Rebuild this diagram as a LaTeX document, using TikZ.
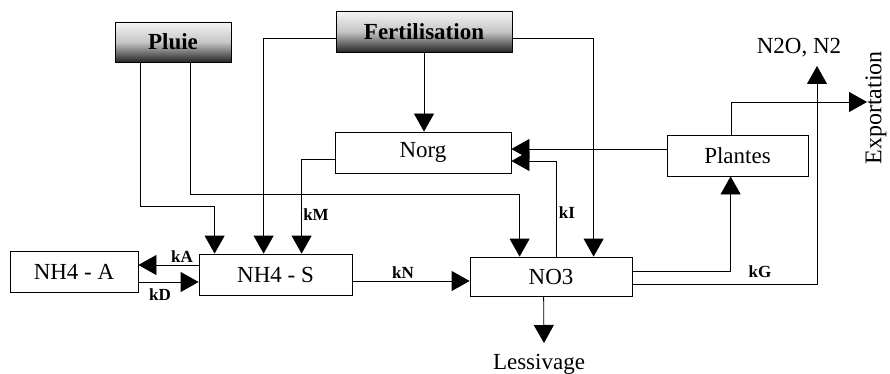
\documentclass[tikz,border=0pt]{standalone}
\usepackage{fontspec}
\setmainfont{Liberation Serif}
\usetikzlibrary{arrows.meta}
\begin{document}
\begin{tikzpicture}[x=1pt,y=-1pt,
  box/.style={draw,line width=0.8pt,rectangle,inner sep=0pt,font=\fontsize{23}{23}\selectfont},
  srcbox/.style={box,font=\fontsize{23}{23}\selectfont\bfseries,top color=gray!8,bottom color=black!85,middle color=gray!45},
  flow/.style={line width=0.8pt,-{Triangle[width=20pt,length=18pt]}},
  klab/.style={font=\fontsize{17}{17}\selectfont\bfseries,inner sep=0pt},
  txt/.style={font=\fontsize{23}{23}\selectfont,inner sep=0pt}]
\useasboundingbox (0,0) rectangle (890,374);
\node[srcbox,minimum width=116pt,minimum height=40pt] (pluie) at (173,42) {Pluie};
\node[srcbox,minimum width=176pt,minimum height=41pt] (fert) at (424,31.5) {Fertilisation};
\node[box,minimum width=176pt,minimum height=41pt] (norg) at (423,152.5) {Norg};
\node[box,minimum width=141pt,minimum height=41pt] (plantes) at (737.5,155.5) {Plantes};
\node[box,minimum width=128pt,minimum height=41pt] (nha) at (74,271.5) {NH4 - A};
\node[box,minimum width=153pt,minimum height=41pt] (nhs) at (275.5,274.5) {NH4 - S};
\node[box,minimum width=162pt,minimum height=39pt] (no3) at (551,276.5) {NO3};
\node[txt] (n2o) at (799,48) {N2O, N2};
\node[txt,rotate=90,font=\fontsize{24}{24}\selectfont] (export) at (876,108) {Exportation};
\node[txt] (less) at (539,364) {Lessivage};
\coordinate (n2otip) at (817,66);
\coordinate (exptip) at (867,102);
\coordinate (lesstip) at (544,343);
% Pluie
\draw[flow] ([xshift=26pt]pluie.south west) -- ++(0,144) -| ([xshift=16pt]nhs.north west);
\draw[flow] ([xshift=76pt]pluie.south west) -- ++(0,132) -| ([xshift=50pt]no3.north west);
% Fertilisation
\draw[flow] ([yshift=-6.5pt]fert.west) -| ([xshift=65pt]nhs.north west);
\draw[flow] (fert.south) -- (fert.south |- norg.north);
\draw[flow] ([yshift=-7pt]fert.east) -| ([xshift=124pt]no3.north west);
% Norg -> NH4-S
\draw[flow] ([yshift=-6.5pt]norg.west) -| ([xshift=103pt]nhs.north west);
\node[klab] (km) at (316,215) {kM};
% Plantes -> Norg
\draw[flow] ([yshift=6.5pt]plantes.west) -- ([yshift=6.5pt]plantes.west -| norg.east);
% NO3 -> Norg
\draw[flow] ([xshift=87pt]no3.north west) |- ([yshift=-8.5pt]norg.east);
\node[klab] (ki) at (567,213) {kI};
% NO3 -> Plantes
\draw[flow] ([yshift=5.5pt]no3.east) -| ([xshift=64pt]plantes.south west);
% NO3 -> N2O
\draw[flow] ([yshift=-7.5pt]no3.east) -| (n2otip);
\node[klab] (kg) at (760,272) {kG};
% Plantes -> Exportation
\draw[flow] ([xshift=65pt]plantes.north west) |- (exptip);
% NH4-S -> NO3
\draw[flow] ([yshift=-6.5pt]nhs.east) -- ([yshift=-6.5pt]nhs.east -| no3.west);
\node[klab] (kn) at (403,273) {kN};
% NH4-S <-> NH4-A
\draw[flow] ([yshift=9.5pt]nhs.west) -- ([yshift=9.5pt]nhs.west -| nha.east);
\node[klab] (ka) at (182,257) {kA};
\draw[flow] ([yshift=-10.5pt]nha.east) -- ([yshift=-10.5pt]nha.east -| nhs.west);
\node[klab] (kd) at (160,295) {kD};
% NO3 -> Lessivage
\draw[flow] ([xshift=74pt]no3.south west) -- (lesstip);
\end{tikzpicture}
\end{document}
